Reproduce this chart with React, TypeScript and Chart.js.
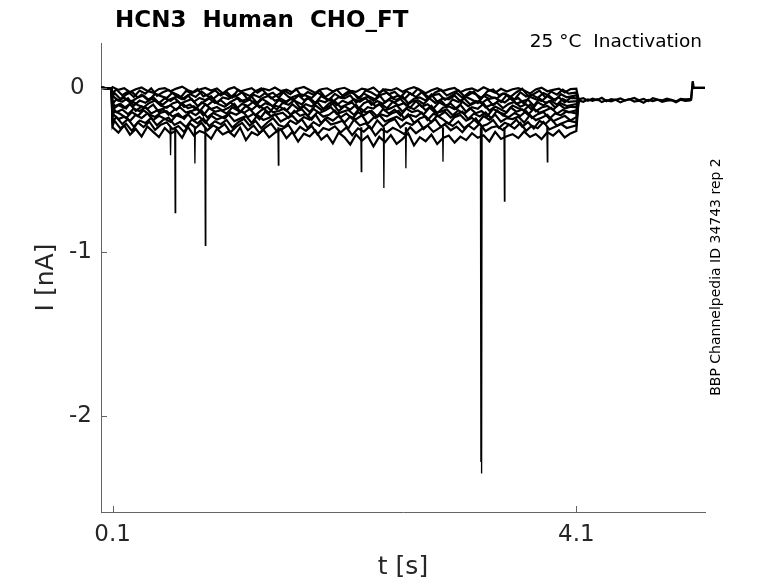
import { useEffect, useRef } from 'react'
import { Chart, registerables } from 'chart.js'
Chart.register(...registerables)

// sample times of the voltage step (s): 50 ms grids, staggered per sweep
const stepT = Array.from({ length: 81 }, (_, i) => +(0.1 + 0.05 * i).toFixed(3))
const gridShift = [0, 0.017, 0.033]

// holding before the step (pA)
const preT = [0.005, 0.09]
const preI = [0, -3]

// current during the step, one row per sweep (pA)
const sweep1 = [5,-12,-2,-25,-8,3,-18,-30,-6,-1,-20,-4,8,-14,-27,-9,0,-16,-3,-33,-7,4,-22,-11,-1,-29,-5,-15,2,-19,-10,-26,-3,6,-13,-31,-8,-2,-21,-6,1,-17,-24,-4,-12,3,-28,-9,-15,-1,-23,-6,5,-11,-32,-14,-2,-19,-7,0,-26,-10,-3,-18,4,-13,-29,-5,-22,-8,-1,-16,-34,-9,2,-20,-12,-4,-27,-7,-5]
const sweep2 = [-30,-9,-44,-22,-55,-16,-35,-3,-48,-26,-12,-40,-61,-19,-31,-7,-52,-37,-14,-45,-24,-58,-11,-33,-49,-20,-2,-43,-29,-60,-17,-38,-6,-53,-25,-41,-13,-56,-32,-10,-47,-21,-36,-63,-15,-28,-50,-8,-39,-23,-57,-18,-42,-5,-34,-59,-27,-12,-46,-30,-14,-51,-24,-39,-62,-20,-9,-44,-33,-55,-26,-4,-48,-37,-16,-58,-22,-41,-11,-35,-28]
const sweep3 = [-52,-31,-67,-40,-24,-58,-46,-75,-35,-50,-62,-28,-44,-70,-37,-55,-21,-48,-66,-39,-33,-60,-49,-26,-72,-42,-57,-30,-64,-45,-23,-54,-69,-38,-47,-61,-27,-51,-74,-36,-58,-43,-20,-65,-34,-53,-71,-41,-29,-60,-46,-68,-32,-56,-25,-63,-44,-37,-73,-50,-30,-59,-45,-22,-67,-39,-55,-64,-34,-48,-70,-26,-53,-42,-61,-31,-49,-76,-38,-57,-45]
const sweep4 = [-48,-77,-59,-88,-66,-41,-72,-55,-93,-63,-80,-52,-69,-44,-85,-61,-75,-50,-90,-58,-67,-39,-82,-70,-54,-95,-60,-47,-78,-65,-86,-57,-43,-74,-62,-91,-49,-71,-83,-56,-64,-45,-89,-68,-53,-79,-42,-87,-60,-73,-51,-94,-66,-58,-76,-40,-84,-63,-70,-46,-81,-55,-72,-92,-48,-67,-59,-86,-44,-75,-62,-97,-53,-69,-80,-50,-74,-57,-88,-61,-64]
const sweep5 = [-95,-70,-84,-62,-108,-77,-91,-66,-83,-102,-73,-59,-97,-81,-68,-110,-86,-64,-92,-75,-104,-79,-60,-88,-71,-99,-65,-85,-112,-74,-90,-67,-82,-101,-58,-94,-76,-87,-63,-106,-78,-93,-69,-84,-61,-103,-80,-96,-72,-89,-66,-107,-83,-74,-98,-62,-91,-77,-114,-70,-86,-64,-100,-79,-93,-68,-105,-75,-88,-60,-97,-82,-71,-109,-65,-90,-78,-102,-67,-85,-80]
const sweep6 = [-85,-112,-96,-125,-80,-104,-118,-91,-77,-109,-121,-94,-83,-116,-101,-130,-88,-107,-79,-99,-114,-86,-127,-97,-110,-82,-119,-93,-105,-132,-90,-103,-76,-122,-99,-113,-87,-128,-95,-81,-117,-102,-89,-131,-93,-78,-111,-98,-124,-84,-106,-92,-120,-80,-115,-100,-126,-87,-108,-96,-129,-83,-111,-94,-77,-118,-103,-90,-123,-97,-85,-114,-99,-133,-88,-107,-81,-119,-93,-110,-98]
const sweep7 = [-131,-104,-122,-98,-140,-113,-127,-101,-148,-119,-107,-135,-94,-124,-112,-143,-100,-129,-116,-138,-121,-96,-145,-110,-133,-103,-125,-152,-108,-118,-139,-99,-128,-114,-146,-106,-134,-120,-95,-141,-111,-132,-102,-150,-117,-126,-97,-137,-123,-105,-144,-115,-130,-100,-136,-109,-154,-121,-112,-129,-103,-147,-118,-127,-96,-139,-113,-131,-149,-107,-124,-136,-101,-142,-119,-110,-134,-98,-126,-115,-117]
const sweep8 = [-120,-148,-131,-160,-125,-142,-116,-155,-137,-128,-163,-133,-119,-150,-140,-126,-168,-122,-145,-135,-157,-118,-139,-152,-129,-166,-136,-115,-149,-141,-124,-161,-143,-130,-171,-127,-153,-138,-117,-158,-146,-134,-165,-121,-150,-139,-174,-128,-156,-132,-169,-125,-147,-137,-162,-119,-151,-144,-130,-167,-136,-158,-123,-154,-141,-172,-127,-149,-160,-118,-145,-131,-163,-126,-152,-138,-121,-157,-134,-148,-137]
const sweep9 = [-168,-140,-159,-183,-147,-171,-136,-162,-177,-150,-142,-174,-156,-189,-145,-166,-138,-180,-153,-169,-186,-149,-163,-141,-178,-157,-191,-144,-172,-160,-151,-182,-139,-170,-158,-193,-146,-175,-164,-137,-179,-155,-188,-148,-167,-143,-184,-161,-173,-152,-140,-187,-165,-176,-150,-196,-158,-170,-145,-181,-162,-144,-190,-156,-174,-149,-185,-137,-168,-178,-153,-171,-141,-183,-160,-147,-188,-155,-166,-143,-156]
const sweep10 = [-158,-190,-175,-201,-163,-184,-155,-196,-170,-188,-207,-166,-181,-160,-199,-176,-212,-168,-193,-178,-161,-203,-187,-172,-214,-165,-195,-182,-159,-205,-185,-169,-208,-177,-194,-162,-216,-180,-199,-171,-210,-174,-191,-167,-218,-183,-163,-204,-189,-176,-197,-160,-213,-186,-173,-209,-168,-192,-220,-178,-165,-200,-182,-215,-171,-194,-162,-206,-184,-190,-175,-211,-166,-196,-181,-164,-203,-187,-170,-198,-178]
const sweep11 = [-205,-178,-220,-190,-236,-199,-214,-183,-228,-196,-181,-225,-207,-239,-192,-216,-186,-233,-203,-221,-195,-242,-210,-188,-230,-201,-246,-212,-184,-226,-238,-199,-219,-191,-244,-208,-231,-187,-223,-213,-200,-248,-193,-229,-215,-252,-197,-235,-206,-189,-241,-211,-226,-198,-250,-217,-190,-237,-209,-232,-204,-245,-218,-185,-234,-222,-196,-243,-212,-227,-193,-236,-208,-247,-201,-220,-188,-231,-214,-199,-210]
const sweep12 = [-230,-201,-247,-219,-262,-210,-238,-205,-255,-224,-209,-251,-232,-268,-216,-244,-212,-259,-228,-247,-220,-271,-236,-213,-258,-229,-275,-242,-217,-263,-249,-226,-280,-237,-262,-231,-284,-244,-256,-234,-272,-240,-288,-246,-266,-235,-290,-251,-270,-243,-260,-282,-239,-276,-250,-229,-268,-245,-222,-258,-236,-270,-227,-252,-218,-264,-241,-233,-257,-224,-248,-213,-261,-230,-245,-207,-253,-236,-219,-244,-228]
const sweep13 = [-240,-272,-228,-285,-250,-296,-235,-268,-300,-244,-279,-258,-304,-237,-289,-262,-276,-310,-249,-283,-265,-295,-242,-318,-270,-288,-254,-302,-273,-251,-306,-268,-327,-279,-296,-259,-315,-286,-338,-272,-301,-345,-283,-322,-292,-356,-298,-330,-287,-341,-312,-276,-350,-300,-325,-285,-342,-305,-290,-333,-297,-318,-276,-304,-289,-326,-268,-311,-294,-282,-306,-265,-299,-281,-312,-270,-291,-259,-302,-277,-262]
const sweeps = [sweep1, sweep2, sweep3, sweep4, sweep5, sweep6, sweep7, sweep8, sweep9, sweep10, sweep11, sweep12, sweep13]

// after the step all sweeps settle together (pA)
const tailT = [4.12,4.16,4.20,4.24,4.28,4.32,4.36,4.40,4.44,4.48,4.52,4.56,4.60,4.64,4.68,4.72,4.76,4.80,4.84,4.88,4.92,4.96,5.00,5.04,5.08]
const tailA = [-70,-62,-78,-66,-74,-60,-81,-68,-72,-64,-77,-69,-61,-75,-67,-80,-63,-71,-76,-65,-73,-82,-66,-70,-68]
const tailB = [-76,-84,-70,-79,-68,-86,-74,-81,-72,-88,-75,-69,-83,-77,-90,-73,-80,-71,-85,-78,-74,-87,-72,-79,-76]
const endT = [5.09, 5.105, 5.11, 5.21]
const endI = [-70, 40, 0, 0]

// brief inward spikes: time (s), peak (pA)
const spikeT = [0.6, 0.64, 0.81, 0.9, 1.53, 2.245, 2.44, 2.63, 2.95, 3.277, 3.283, 3.48, 3.85]
const spikePeak = [-410, -760, -460, -960, -470, -510, -610, -490, -450, -2280, -2350, -690, -450]
const spikeBase = -240

const xTicks = [0.1, 4.1]
const yTicks = [-2, -1, 0]

const AXIS = '#646464'
const FONT = '"DejaVu Sans", sans-serif'
const nA = (pA: number) => pA / 1000

const decorPlugin = {
    id: 'decor',
    afterDraw(chart: Chart) {
        const { ctx, chartArea } = chart
        const xs = chart.scales.x, ys = chart.scales.y
        ctx.save()
        // inward tick marks
        ctx.strokeStyle = AXIS
        ctx.lineWidth = 1
        ctx.beginPath()
        xTicks.forEach(v => {
            const px = Math.round(xs.getPixelForValue(v)) + 0.5
            ctx.moveTo(px, chartArea.bottom); ctx.lineTo(px, chartArea.bottom - 6)
        })
        yTicks.forEach(v => {
            const py = Math.round(ys.getPixelForValue(v)) + 0.5
            ctx.moveTo(chartArea.left, py); ctx.lineTo(chartArea.left + 6, py)
        })
        ctx.stroke()

        ctx.fillStyle = '#000'
        ctx.font = `bold 23px ${FONT}`
        ctx.textAlign = 'left'; ctx.textBaseline = 'alphabetic'
        ctx.fillText('HCN3  Human  CHO_FT', 115, 27)

        ctx.font = `18.5px ${FONT}`
        ctx.textAlign = 'right'
        ctx.fillText('25 °C  Inactivation', 702, 47)

        ctx.translate(716, 277)
        ctx.rotate(-Math.PI / 2)
        ctx.font = `14px ${FONT}`
        ctx.textAlign = 'center'; ctx.textBaseline = 'middle'
        ctx.fillText('BBP Channelpedia ID 34743 rep 2', 0, 0)
        ctx.restore()
    }
}

export default function App() {
    const canvasRef = useRef<HTMLCanvasElement>(null)

    useEffect(() => {
        if (!canvasRef.current) return
        const line = { borderColor: '#000', borderWidth: 2.2, pointRadius: 0, tension: 0, fill: false }

        const sweepSets = sweeps.map((s, k) => {
            const shift = gridShift[k % gridShift.length]
            const ts = stepT.map((t, i) => (i === 0 || i === stepT.length - 1 ? t : t - shift))
            return {
                ...line,
                data: [
                    ...preT.map((t, i) => ({ x: t, y: nA(preI[i]) })),
                    ...ts.map((t, i) => ({ x: t, y: nA(s[i]) })),
                    { x: tailT[0], y: nA(tailA[0]) },
                ],
            }
        })
        const tailSets = [tailA, tailB].map(v => ({
            ...line,
            data: [
                ...tailT.map((t, i) => ({ x: t, y: nA(v[i]) })),
                ...endT.map((t, i) => ({ x: t, y: nA(endI[i]) })),
            ],
        }))
        const spikeData: { x: number; y: number | null }[] = []
        spikeT.forEach((t, i) => {
            spikeData.push(
                { x: t - 0.004, y: nA(spikeBase) }, { x: t, y: nA(spikePeak[i]) },
                { x: t + 0.004, y: nA(spikeBase) }, { x: t + 0.004, y: null },
            )
        })

        const chart = new Chart(canvasRef.current, {
            type: 'line',
            plugins: [decorPlugin],
            data: { datasets: [...sweepSets, ...tailSets, { ...line, borderWidth: 1.3, spanGaps: false, data: spikeData }] as any },
            options: {
                animation: false, responsive: true, maintainAspectRatio: false,
                layout: { padding: { left: 0, right: 73, top: 43, bottom: 0 } },
                plugins: { legend: { display: false }, tooltip: { enabled: false } },
                scales: {
                    x: {
                        type: 'linear', min: 0, max: 5.21,
                        grid: { display: false, drawTicks: false },
                        border: { display: true, color: AXIS, width: 1 },
                        afterBuildTicks: s => { s.ticks = xTicks.map(v => ({ value: v })) },
                        afterFit: s => { s.height = 71 },
                        ticks: { color: '#262626', font: { family: FONT, size: 23 }, padding: 9, maxRotation: 0, callback: v => String(v) },
                        title: { display: true, text: 't [s]', color: '#262626', font: { family: FONT, size: 25 }, padding: { top: 0, bottom: 1 } },
                    },
                    y: {
                        type: 'linear', min: -2.585, max: 0.274,
                        grid: { display: false, drawTicks: false },
                        border: { display: true, color: AXIS, width: 1 },
                        afterBuildTicks: s => { s.ticks = yTicks.map(v => ({ value: v })) },
                        afterFit: s => { s.width = 101 },
                        ticks: { color: '#262626', font: { family: FONT, size: 23 }, padding: 9, callback: v => (v === 0 ? '0 ' : String(v)) },
                        title: { display: true, text: 'I [nA]', color: '#262626', font: { family: FONT, size: 25 }, padding: { top: 31, bottom: 0 } },
                    },
                },
            },
        })
        return () => chart.destroy()
    }, [])

    return (
        <div style={{ position: 'fixed', left: 0, top: 0, width: 778, height: 583, background: 'white' }}>
            <canvas ref={canvasRef} />
        </div>
    )
}
